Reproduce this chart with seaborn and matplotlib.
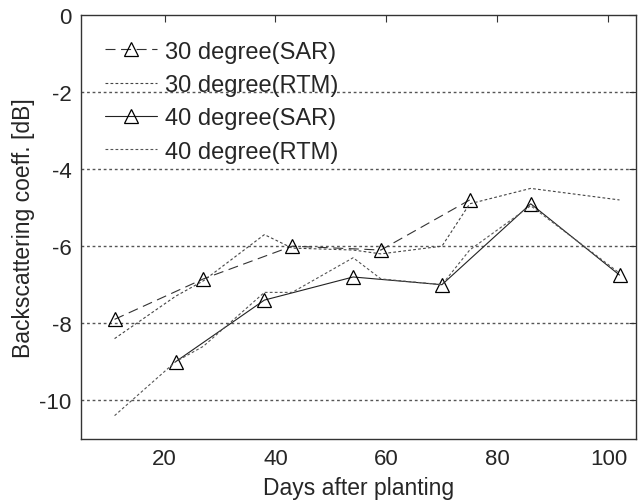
import numpy as np
import pandas as pd
import matplotlib
matplotlib.use('Agg')
import matplotlib.pyplot as plt
import seaborn as sns

sns.set_style('white')
plt.rcParams['font.family'] = ['Liberation Sans', 'DejaVu Sans']
plt.rcParams['axes.unicode_minus'] = False

# observation dates (days after planting)
days_30_sar = [11, 27, 43, 59, 75]
days_40_sar = [22, 38, 54, 70, 86, 102]
days_rtm = [11, 22, 27, 38, 43, 54, 59, 70, 75, 86, 102]

# backscattering values [dB]
sar_30 = [-7.9, -6.85, -6.0, -6.1, -4.8]
sar_40 = [-9.0, -7.4, -6.8, -7.0, -4.9, -6.75]
rtm_30 = [-8.4, -7.3, -6.9, -5.7, -6.05, -6.1, -6.2, -6.0, -4.9, -4.5, -4.8]
rtm_40 = [-10.4, -9.0, -8.6, -7.2, -7.2, -6.3, -6.85, -7.0, -6.1, -4.95, -6.7]

fig, ax = plt.subplots(figsize=(6.4, 5.02), dpi=100)
fig.subplots_adjust(left=0.127, right=0.994, bottom=0.124, top=0.968)

# horizontal dotted grid
for yv in [-2, -4, -6, -8, -10]:
    ax.axhline(yv, color='#555555', linestyle=(0, (2, 2)), linewidth=1, zorder=0)

sns.lineplot(x=days_30_sar, y=sar_30, ax=ax, color='#333333', linewidth=0.8,
             linestyle=(0, (9, 5)), marker='^', markersize=10,
             markerfacecolor='none', markeredgecolor='black', markeredgewidth=0.9,
             label='30 degree(SAR)')
sns.lineplot(x=days_rtm, y=rtm_30, ax=ax, color='#444444', linewidth=0.8,
             linestyle=(0, (2.5, 2)), label='30 degree(RTM)')
sns.lineplot(x=days_40_sar, y=sar_40, ax=ax, color='#222222', linewidth=0.8,
             linestyle='-', marker='^', markersize=10,
             markerfacecolor='none', markeredgecolor='black', markeredgewidth=0.9,
             label='40 degree(SAR)')
sns.lineplot(x=days_rtm, y=rtm_40, ax=ax, color='#555555', linewidth=0.8,
             linestyle=(0, (2.5, 2)), label='40 degree(RTM)')

ax.set_xlim(5, 105)
ax.set_ylim(-11, 0)
ax.set_xticks([20, 40, 60, 80, 100])
ax.set_yticks([0, -2, -4, -6, -8, -10])
ax.set_xlabel('Days after planting', fontsize=16.5, labelpad=5)
ax.set_ylabel('Backscattering coeff. [dB]', fontsize=16.5, labelpad=3)
ax.tick_params(direction='in', top=True, right=True, labelsize=16, length=5,
               color='#333333', pad=7)
for sp in ax.spines.values():
    sp.set_color('#333333')
    sp.set_linewidth(1)

leg = ax.legend(loc='upper left', frameon=False, fontsize=17, handlelength=2.2,
                labelspacing=0.48, bbox_to_anchor=(0.025, 0.962), borderaxespad=0,
                handletextpad=0.35)

fig.savefig('out.png', dpi=100)
